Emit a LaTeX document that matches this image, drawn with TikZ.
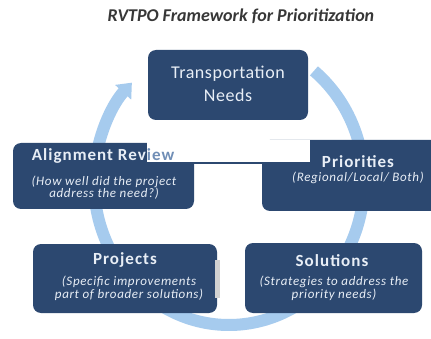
\documentclass[tikz,border=0pt]{standalone}
\usepackage{fontspec}
\setmainfont{Carlito}
\usetikzlibrary{arrows.meta}
\definecolor{navy}{RGB}{44,72,112}
\definecolor{ring}{RGB}{166,203,238}
\definecolor{boxtext}{RGB}{232,238,246}
\definecolor{ghost}{RGB}{112,142,182}
\definecolor{titlegray}{RGB}{55,55,55}
\newcommand\hdfont{\fontsize{17}{19}\selectfont\bfseries\addfontfeatures{LetterSpace=6}}
\newcommand\subfont{\fontsize{13}{13}\selectfont\itshape\addfontfeatures{LetterSpace=5}}
\begin{document}
\begin{tikzpicture}[x=1pt,y=-1pt,
  stagebox/.style={fill=navy, rounded corners=8pt, inner sep=0pt},
  hd/.style={text=boxtext, font=\hdfont, inner sep=0pt, anchor=base},
  subtxt/.style={text=boxtext, font=\subfont, inner sep=0pt, anchor=base},
]
\useasboundingbox (0,0) rectangle (431,339);
\fill[white] (0,0) rectangle (431,339);

% title
\node[text=titlegray, font=\fontsize{18}{20}\selectfont\bfseries\itshape, inner sep=0pt, anchor=base] (title) at (241,22) {RVTPO Framework for Prioritization};

% cycle ring
\draw[ring, line width=12pt, -{Triangle[width=21pt,length=13pt]}]
  (229,182) ++(-51:135 and 143) arc[start angle=-51, end angle=224, x radius=135, y radius=143];

% boxes
\path[stagebox] (148,50) rectangle (308,120);
\node[inner sep=0pt, minimum width=160pt, minimum height=70pt] (needs) at (228,85) {};
\path[stagebox] (13,143) rectangle (194,209);
\node[inner sep=0pt, minimum width=181pt, minimum height=66pt] (review) at (103.5,176) {};
\path[stagebox] (262,140) rectangle (440,211);
\node[inner sep=0pt, minimum width=169pt, minimum height=71pt] (priorities) at (346.5,175.5) {};
\path[stagebox] (33,244) rectangle (217,313);
\node[inner sep=0pt, minimum width=184pt, minimum height=69pt] (projects) at (125,278.5) {};
\path[stagebox] (245,243) rectangle (422,313);
\node[inner sep=0pt, minimum width=177pt, minimum height=70pt] (solutions) at (333.5,278) {};

% texts
\node[text=boxtext, font=\fontsize{18}{20}\selectfont\addfontfeatures{LetterSpace=3}, inner sep=0pt, anchor=base] (needsA) at (228,79) {Transportation};
\node[text=boxtext, font=\fontsize{18}{20}\selectfont\addfontfeatures{LetterSpace=3}, inner sep=0pt, anchor=base] (needsB) at (228,102) {Needs};

\node[hd] (reviewH) at (103,161) {Alignment Review};
\node[subtxt] (reviewA) at (104,186) {(How well did the project};
\node[subtxt] (reviewB) at (104,198) {address the need?)};

\node[hd] (prioritiesH) at (358,168) {Priorities};
\node[subtxt] (prioritiesA) at (358,182) {(Regional/Local/ Both)};

\node[hd] (projectsH) at (125,265) {Projects};
\node[subtxt] (projectsA) at (129,285) {(Specific improvements};
\node[subtxt] (projectsB) at (129,298) {part of broader solutions)};

\node[hd] (solutionsH) at (332,266) {Solutions};
\node[subtxt] (solutionsA) at (334,285) {(Strategies to address the};
\node[subtxt] (solutionsB) at (334,298) {priority needs)};

% grey bar at projects edge
\fill[gray!35] (215,260) rectangle (220,298);

% white overlay strip
\fill[white] (147,140) rectangle (310,163);
\begin{scope}
  \clip (147,140) rectangle (310,163);
  \node[hd, text=ghost] (reviewGhost) at (103,161) {Alignment Review};
\end{scope}
\draw[navy, line width=1.6pt] (147,163) -- (310,163);
\end{tikzpicture}
\end{document}
